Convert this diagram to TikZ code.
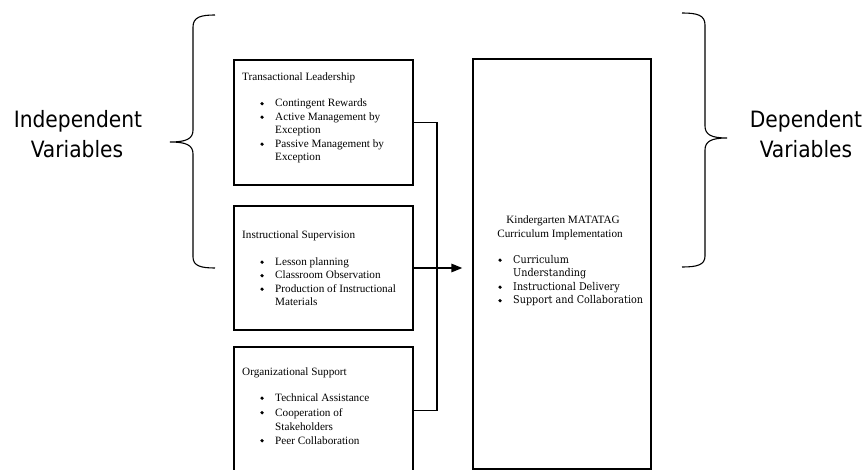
\documentclass[tikz,border=0pt]{standalone}
\usepackage{fontspec}
\setmainfont{Liberation Serif}
\newfontfamily\sansf{DejaVu Sans Condensed}
\newfontfamily\cambf{DejaVu Serif Condensed}
\usetikzlibrary{arrows.meta}
\tikzset{
  box/.style={draw=black, line width=1.4pt, inner sep=0pt},
  conn/.style={draw=black, line width=1.6pt},
  arr/.style={conn, -{Triangle[length=11pt,width=8.5pt]}},
  brace/.style={draw=black, line width=1.1pt},
  big/.style={anchor=base, inner sep=0pt, font=\sansf\fontsize{22.5}{30}\selectfont},
  txt/.style={anchor=base west, inner sep=0pt, font=\fontsize{11.2}{13.5}\selectfont},
  ctr/.style={anchor=base, inner sep=0pt, font=\fontsize{11.2}{13.5}\selectfont},
  bul/.style={circle, fill=black, inner sep=0pt, minimum size=3.6pt},
  txtc/.style={anchor=base west, inner sep=0pt, font=\cambf\fontsize{10.7}{13.5}\selectfont},
}
\newcommand\bitem[4]{\node[bul] (#1b) at (#2,#3-3.3) {}; \node[txt] (#1) at (#2+13,#3) {#4};}
\newcommand\bitemc[4]{\node[bul] (#1b) at (#2,#3-3.3) {}; \node[txtc] (#1) at (#2+13,#3) {#4};}
\begin{document}
\begin{tikzpicture}[x=1pt,y=-1pt]
\useasboundingbox (0,0) rectangle (865,470);

% boxes
\node[box, minimum width=179pt, minimum height=125pt] (b1) at (323.5,122.5) {};
\node[box, minimum width=179pt, minimum height=124pt] (b2) at (323.5,268) {};
\node[box, minimum width=179pt, minimum height=127pt] (b3) at (323.5,410.5) {};
\node[box, minimum width=178pt, minimum height=410pt] (rb) at (562,264) {};

% box 1 text
\node[txt] (h1) at (242,81) {Transactional Leadership};
\bitem{a1}{262}{107}{Contingent Rewards}
\bitem{a2}{262}{120.5}{Active Management by}
\node[txt] (a2c) at (275,134) {Exception};
\bitem{a3}{262}{147.5}{Passive Management by}
\node[txt] (a3c) at (275,161) {Exception};

% box 2 text
\node[txt] (h2) at (242,239) {Instructional Supervision};
\bitem{c1}{262}{265.5}{Lesson planning}
\bitem{c2}{262}{279}{Classroom Observation}
\bitem{c3}{262}{292.5}{Production of Instructional}
\node[txt] (c3c) at (275,306) {Materials};

% box 3 text
\node[txt] (h3) at (242,375.5) {Organizational Support};
\bitem{d1}{262}{401.5}{Technical Assistance}
\bitem{d2}{262}{416}{Cooperation of}
\node[txt] (d2c) at (275,430) {Stakeholders};
\bitem{d3}{262}{444}{Peer Collaboration}

% right box text
\node[ctr] (k1) at (563,224) {Kindergarten MATATAG};
\node[ctr] (k2) at (560,237.5) {Curriculum Implementation};
\bitemc{e1}{500}{263.5}{Curriculum}
\node[txtc] (e1c) at (513,277) {Understanding};
\bitemc{e2}{500}{290.5}{Instructional Delivery}
\bitemc{e3}{500}{304}{Support and Collaboration}

% connectors
\draw[conn] (b1.east) -- ++(23,0) |- (b3.east);
\draw[arr, shorten >=10pt] (b2.east) -- (b2.east -| rb.west);

% braces
\draw[brace] (215,15) .. controls (201,15) and (193,17) .. (193,27) -- (193,130)
  .. controls (193,139) and (186,142) .. (170,142)
  .. controls (186,142) and (193,145) .. (193,154) -- (193,257)
  .. controls (193,266) and (201,268) .. (215,268);
\draw[brace] (682,13) .. controls (697,13) and (705,15) .. (705,25) -- (705,126)
  .. controls (705,135) and (712,138) .. (727,138)
  .. controls (712,138) and (705,141) .. (705,150) -- (705,256)
  .. controls (705,265) and (697,267) .. (682,267);

% labels
\node[big] (iv1) at (78,128) {Independent};
\node[big] (iv2) at (77,158) {Variables};
\node[big] (dv1) at (806,128) {Dependent};
\node[big] (dv2) at (806,158) {Variables};
\end{tikzpicture}
\end{document}
